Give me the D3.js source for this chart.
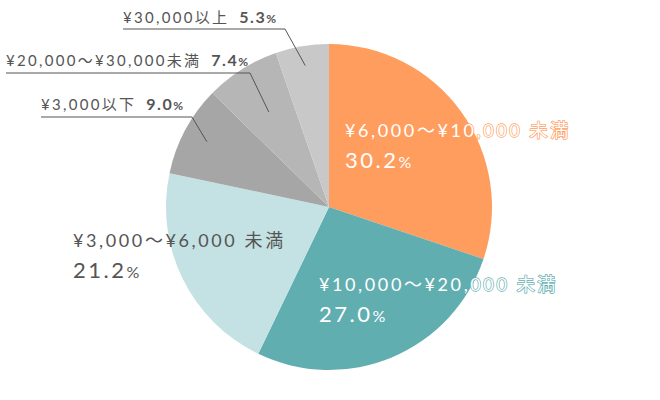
<!DOCTYPE html>
<html>
<head>
<meta charset="utf-8">
<script src="https://d3js.org/d3.v7.min.js"></script>
<style>
  body { margin: 0; background: #fff; }
  text { font-family: Lato, "Noto Sans CJK JP", sans-serif; }
</style>
</head>
<body>
<div id="chart"></div>
<script>
// data, clockwise from 12 o'clock
var categories = ["¥6,000〜¥10,000 未満", "¥10,000〜¥20,000 未満", "¥3,000〜¥6,000 未満",
                  "¥3,000以下", "¥20,000〜¥30,000未満", "¥30,000以上"];
var shares = [30.2, 27.0, 21.2, 9.0, 7.4, 5.3];
var colors = ["#ff9d5e", "#61aeb1", "#c4e2e3", "#a6a6a6", "#b6b6b6", "#c8c8c8"];

var width = 660, height = 400;
var cx = 329, cy = 207, r = 163;

var svg = d3.select("#chart").append("svg")
    .attr("width", width).attr("height", height);

var pie = d3.pie().sort(null).value(function (d) { return d; });
var arcs = pie(shares);
var arc = d3.arc().innerRadius(0).outerRadius(r);

var g = svg.append("g").attr("transform", "translate(" + cx + "," + cy + ")");

g.selectAll("path")
    .data(arcs)
    .enter().append("path")
    .attr("d", arc)
    .style("fill", function (d, i) { return colors[i]; });

// big labels inside the three large slices
var bigLabels = [
    { i: 0, x: 345, y: 137, fill: "#fff", stroke: colors[0] },
    { i: 1, x: 319, y: 291, fill: "#fff", stroke: colors[1] },
    { i: 2, x: 73, y: 247, fill: "#555", stroke: "none" }
];

bigLabels.forEach(function (b) {
    svg.append("text")
        .attr("x", b.x).attr("y", b.y)
        .style("font-size", "18px")
        .style("letter-spacing", "2.6px")
        .style("fill", b.fill)
        .style("stroke", b.stroke)
        .style("stroke-width", b.stroke == "none" ? 0 : 1.4)
        .style("paint-order", "stroke")
        .text(categories[b.i]);
    var p = svg.append("text")
        .attr("x", b.x).attr("y", b.y + 31)
        .style("font-size", "22px")
        .style("letter-spacing", "2.5px")
        .style("fill", b.fill);
    p.append("tspan").text(shares[b.i].toFixed(1));
    p.append("tspan").style("font-size", "16px").style("letter-spacing", "0").text("%");
});

// small labels with leader lines
var smallLabels = [
    { i: 3, x: 41, y: 110, lineY: 117, lineX2: 192, k: 0.85 },
    { i: 4, x: 6, y: 66, lineY: 73, lineX2: 250, k: 0.69 },
    { i: 5, x: 123, y: 23, lineY: 29, lineX2: 285, k: 0.88 }
];

smallLabels.forEach(function (s) {
    var a = arcs[s.i];
    var mid = (a.startAngle + a.endAngle) / 2;
    var px = cx + s.k * r * Math.sin(mid);
    var py = cy - s.k * r * Math.cos(mid);
    svg.append("polyline")
        .attr("points", [[s.x, s.lineY], [s.lineX2, s.lineY], [px, py]].join(" "))
        .style("fill", "none")
        .style("stroke", "#555")
        .style("stroke-width", 1);
    var t = svg.append("text")
        .attr("x", s.x).attr("y", s.y)
        .style("font-size", "15px")
        .style("letter-spacing", "2.3px")
        .style("fill", "#555");
    t.append("tspan").text(categories[s.i]);
    t.append("tspan").attr("dx", 10).style("font-weight", "bold").style("font-size", "16px")
        .style("letter-spacing", "1.5px").text(shares[s.i].toFixed(1));
    t.append("tspan").style("font-weight", "bold").style("font-size", "12px")
        .style("letter-spacing", "0").text("%");
});
</script>
</body>
</html>
